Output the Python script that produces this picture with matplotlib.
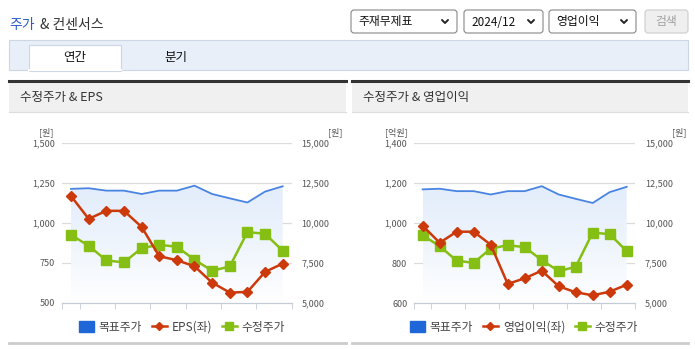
import numpy as np
import matplotlib
matplotlib.use('Agg')
import matplotlib.pyplot as plt
from matplotlib.patches import Rectangle, FancyBboxPatch, Patch
from matplotlib.lines import Line2D

plt.rcParams['font.family'] = ['Noto Sans CJK KR', 'DejaVu Sans']

W, H = 695, 349

# data
months = ['23/06', '23/07', '23/08', '23/09', '23/10', '23/11', '23/12',
          '24/01', '24/02', '24/03', '24/04', '24/05', '24/06']
target_price = [12120, 12160, 12010, 12010, 11800, 12010, 12010,
                12320, 11800, 11530, 11270, 11950, 12280]
adj_price = [9250, 8570, 7660, 7530, 8420, 8630, 8510,
             7700, 7010, 7280, 9420, 9320, 8260]
eps = [1167, 1025, 1075, 1075, 975, 792, 767, 729, 627, 565, 569, 694, 746]
op_income = [987, 903, 958, 958, 893, 697, 725, 763, 685, 655, 640, 658, 693]

eps_ticks = [500, 750, 1000, 1250, 1500]
op_ticks = [600, 800, 1000, 1200, 1400]
price_ticks = [5000, 7500, 10000, 12500, 15000]

BLUE = '#4a84e2'
BLUE_SQ = '#1f66d9'
RED = '#cc3a0c'
GREEN = '#86bf14'
GRID = '#dcdcdc'
TXT = '#555555'


def px_axes(fig, x, y, w, h, **kw):
    """axes placed by pixel box (top-left origin)"""
    return fig.add_axes([x / W, 1 - (y + h) / H, w / W, h / H], **kw)


fig = plt.figure(figsize=(W / 100, H / 100), dpi=100)
bg = px_axes(fig, 0, 0, W, H)
bg.set_xlim(0, W)
bg.set_ylim(H, 0)
bg.axis('off')

# page header
bg.text(9, 25, '주가', color='#2b5fc7', fontsize=10, va='center', ha='left')
bg.text(40, 25, '& 컨센서스', color='#333333', fontsize=10, va='center', ha='left')

boxes = [(351, 457, '주재무제표'), (464, 543, '2024/12'), (549, 636, '영업이익')]
for x0, x1, label in boxes:
    bg.add_patch(FancyBboxPatch((x0, 10), x1 - x0, 23,
                                boxstyle='round,pad=0,rounding_size=3',
                                fc='white', ec='#888888', lw=0.8))
    bg.text(x0 + 7, 22, label, fontsize=8.5, va='center', ha='left', color='#111111')
    cx = x1 - 12
    bg.plot([cx - 3, cx, cx + 3], [20, 23, 20], color='#222222', lw=1.4,
            solid_capstyle='round')
bg.add_patch(FancyBboxPatch((645, 10), 43, 23, boxstyle='round,pad=0,rounding_size=3',
                            fc='#efefef', ec='#cccccc', lw=0.8))
bg.text(666, 22, '검색', fontsize=8.5, va='center', ha='center', color='#a0a0a0')

# tab strip
bg.add_patch(Rectangle((9, 40), 679, 30, fc='#e8eff9', ec='#ccd6e4', lw=0.8))
bg.add_patch(Rectangle((29, 45), 92, 25.6, fc='white', ec='#ccd6e4', lw=0.8))
bg.plot([29.4, 120.6], [70, 70], color='white', lw=1.5)
bg.text(75, 57, '연간', fontsize=9, va='center', ha='center', color='#111111')
bg.text(176, 57, '분기', fontsize=9, va='center', ha='center', color='#111111')

# the two panels
panels = [(9, 346, '수정주가 & EPS'), (352, 688, '수정주가 & 영업이익')]
for x0, x1, title in panels:
    bg.add_patch(Rectangle((x0, 82), x1 - x0, 30, fc='#f0f0f0', ec='none'))
    bg.plot([x0, x1], [81, 81], color='#333333', lw=2.2)
    bg.plot([x0, x1], [112, 112], color='#dddddd', lw=0.8)
    bg.plot([x0, x1], [343, 343], color='#cccccc', lw=2)
    bg.text(x0 + 11, 97.5, title, fontsize=9, va='center', ha='left', color='#333333')


def draw_chart(box, left_vals, left_ticks, left_unit, left_name, left_unit_x,
               right_unit_x, legend_x):
    x, y, w, h = box
    ax = px_axes(fig, x, y, w, h)
    ax2 = ax.twinx()
    ax.set_zorder(ax2.get_zorder() + 1)
    ax.patch.set_visible(False)

    xs = np.arange(len(months))
    for a in (ax, ax2):
        a.set_xlim(-0.5, len(months) - 0.5)
        for s in ('top', 'left', 'right'):
            a.spines[s].set_visible(False)
        a.spines['bottom'].set_color('#c4cad6')
        a.tick_params(axis='y', length=0, colors=TXT, labelsize=6.5)

    ax.set_ylim(left_ticks[0], left_ticks[-1])
    ax.set_yticks(left_ticks)
    ax.set_yticklabels([f'{v:,}' for v in left_ticks])
    ax.tick_params(axis='y', pad=5)
    ax2.set_ylim(price_ticks[0], price_ticks[-1])
    ax2.set_yticks(price_ticks)
    ax2.set_yticklabels([f'{v:,}' for v in price_ticks])
    ax2.tick_params(axis='y', pad=7)

    # grid lines sit on the shared tick levels
    for v in price_ticks[1:]:
        ax2.axhline(v, color=GRID, lw=0.9, zorder=0)

    ax.set_xticks(xs[::2])
    ax.set_xticklabels(months[::2])
    ax.set_xticks([-0.5] + np.arange(0.5, len(months), 2).tolist(), minor=True)
    ax.tick_params(axis='x', which='major', length=0, pad=4, colors=TXT, labelsize=6.5)
    ax.tick_params(axis='x', which='minor', length=4, color='#c4cad6')
    ax2.set_xticks([])

    # target price area with fading gradient
    poly = ax2.fill_between(xs, target_price, price_ticks[0], fc='none', ec='none')
    grad = np.linspace(0, 1, 256).reshape(-1, 1, 1)
    top = np.array([0.89, 0.93, 0.985]).reshape(1, 1, 3)
    img = top + (1 - top) * grad ** 1.2
    im = ax2.imshow(img, extent=[0, len(months) - 1, price_ticks[0], max(target_price)],
                    aspect='auto', origin='upper', zorder=1)
    im.set_clip_path(poly.get_paths()[0], transform=ax2.transData)
    ax2.set_xlim(-0.5, len(months) - 0.5)
    ax2.set_ylim(price_ticks[0], price_ticks[-1])
    ax2.plot(xs, target_price, color=BLUE, lw=1.3, zorder=3)

    ax2.plot(xs, adj_price, color=GREEN, lw=1.8, marker='s', ms=6.5, zorder=4)
    ax.plot(xs, left_vals, color=RED, lw=1.8, marker='D', ms=5, zorder=5)

    fig.text(left_unit_x / W, 1 - 132 / H, left_unit, fontsize=6.5, color=TXT,
             ha='right', va='center')
    fig.text(right_unit_x / W, 1 - 132 / H, '[원]', fontsize=6.5, color=TXT,
             ha='center', va='center')

    handles = [Patch(fc=BLUE_SQ, ec=BLUE_SQ),
               Line2D([], [], color=RED, lw=1.8, marker='D', ms=4.5),
               Line2D([], [], color=GREEN, lw=1.8, marker='s', ms=6)]
    fig.legend(handles, ['목표주가', left_name, '수정주가'], loc='center',
               bbox_to_anchor=(legend_x / W, 1 - 327 / H), ncol=3, frameon=False,
               fontsize=8.5, handlelength=1.3, handleheight=1.0,
               columnspacing=0.8, handletextpad=0.4, labelcolor='#444444')
    return ax


draw_chart((62.2, 142.7, 229.3, 160.3), eps, eps_ticks, '[원]', 'EPS(좌)', 54, 335, 182)
draw_chart((414.2, 143.3, 221.0, 160.0), op_income, op_ticks, '[억원]', '영업이익(좌)',
           408, 679, 524)

fig.savefig('out.png', dpi=100)
